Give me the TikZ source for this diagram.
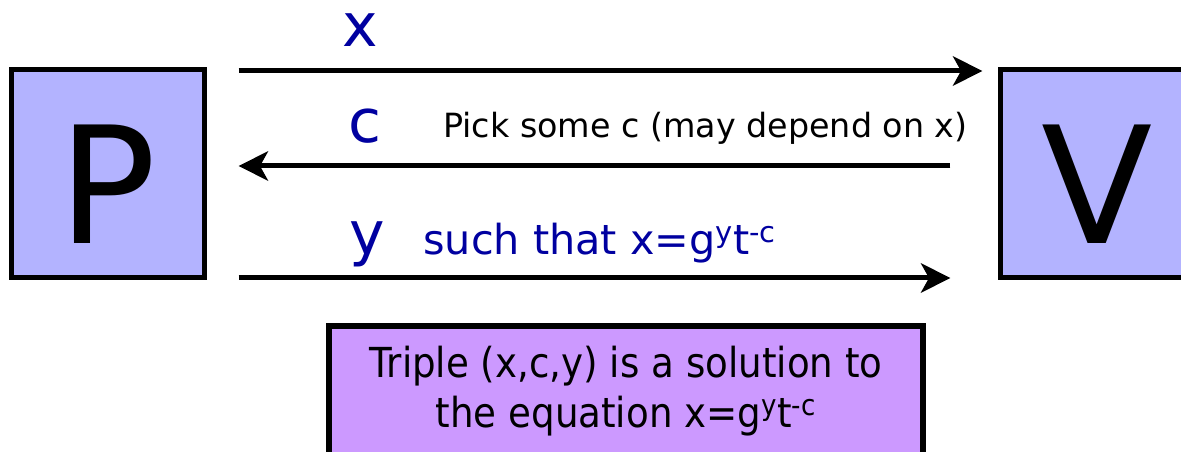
\documentclass[tikz,border=0pt]{standalone}
\usepackage{fontspec}
\setmainfont{DejaVu Sans}
\newfontfamily\narrowsans{DejaVu Sans}[FakeStretch=0.9]
\usetikzlibrary{arrows.meta,calc}
\definecolor{partyfill}{RGB}{179,179,255}
\definecolor{notefill}{RGB}{204,153,255}
\definecolor{msgblue}{RGB}{0,0,160}
\tikzset{
  party/.style={draw,fill=partyfill,line width=3.75pt,inner sep=0pt,text height=105pt,
    minimum width=145pt,minimum height=156pt,font=\fontsize{122}{122}\selectfont},
  notebox/.style={draw,fill=notefill,line width=4.5pt,inner sep=0pt,align=center,
    minimum width=445.5pt,minimum height=97.5pt,font=\narrowsans\fontsize{31}{37.5}\selectfont},
  msg/.style={line width=3.75pt,-{Stealth[length=22pt,width=22pt,inset=6pt]}},
  lbl/.style={text=msgblue,inner sep=0pt,anchor=base,font=\fontsize{45}{45}\selectfont},
}
\begin{document}
\begin{tikzpicture}[x=.75pt,y=-.75pt]
\useasboundingbox (0,0) rectangle (1181,452);
\node[party] (P) at (108,174) {P};
\node[party] (V) at (1097,174) {V};
\draw[msg] ($(P.east)+(31.5,-103)$) -- ($(V.west)+(-15.5,-103)$);
\draw[msg] ($(V.west)+(-47.5,-8)$) -- ($(P.east)+(31.5,-8)$);
\draw[msg] ($(P.east)+(31.5,104)$) -- ($(V.west)+(-47.5,104)$);
\node[lbl] (lx) at (360,47) {x};
\node[lbl] (lc) at (365,143) {c};
\node[lbl] (ly) at (367,255) {y};
\node[inner sep=0pt,anchor=base west,font=\fontsize{25}{25}\selectfont] (pick) at (443,138)
  {Pick some c (may depend on x)};
\node[inner sep=0pt,anchor=base west,text=msgblue,font=\fontsize{31}{31}\selectfont] (such) at (423,255)
  {such that x=g\textsuperscript{y}t\textsuperscript{-c}};
\node[notebox] (eq) at (626,391)
  {Triple (x,c,y) is a solution to\\the equation x=g\textsuperscript{y}t\textsuperscript{-c}};
\end{tikzpicture}
\end{document}
